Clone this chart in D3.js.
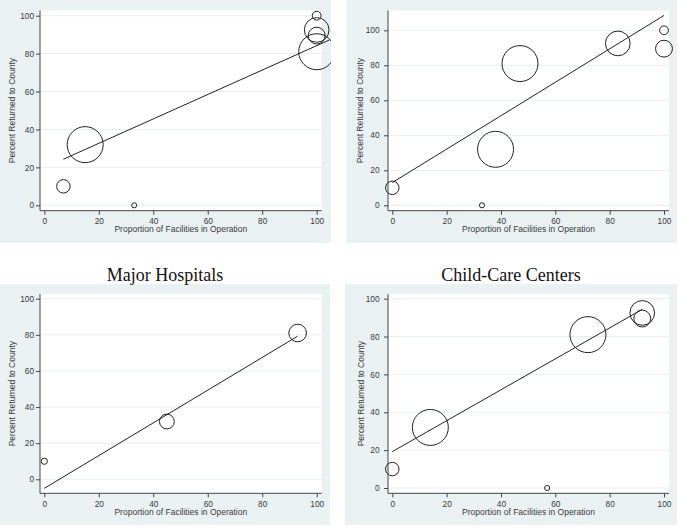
<!DOCTYPE html>
<html>
<head>
<meta charset="utf-8">
<title>Percent Returned to County</title>
<script src="https://cdn.jsdelivr.net/npm/d3@7"></script>
<style>
  body { margin: 0; background: #fff; }
  svg { display: block; }
</style>
</head>
<body>
<div id="chart"></div>
<script>
// ---- data ----
const xTicks = [0, 20, 40, 60, 80, 100];
const yTicks = [0, 20, 40, 60, 80, 100];
const panelTitles = ["", "", "Major Hospitals", "Child-Care Centers"];

// top-left panel
const aX = [100, 100, 100, 100, 15, 7, 33];
const aY = [100, 92.5, 89.5, 81, 32, 10, 0];
const aW = [6, 47, 22, 100, 100, 14, 2];
const aFit = [19.8, 0.644, 7, 104.7];   // intercept, slope, x from, x to

// top-right panel
const bX = [100, 83, 100, 47, 38, 0, 33];
const bY = [100, 92.5, 89.5, 81, 32, 10, 0];
const bW = [6, 47, 22, 100, 100, 14, 2];
const bFit = [13, 0.955, 0, 100];

// Major Hospitals
const cX = [93, 45, 0];
const cY = [81, 32, 10];
const cW = [24, 17, 3];
const cFit = [-5, 0.906, 0, 93];

// Child-Care Centers
const dX = [92, 92, 72, 14, 0, 57];
const dY = [92.5, 89.5, 81, 32, 10, 0];
const dW = [47, 22, 100, 100, 14, 2];
const dFit = [19.2, 0.817, 0, 92];

const xTitle = "Proportion of Facilities in Operation";
const yTitle = "Percent Returned to County";

// ---- layout ----
const width = 680, height = 528;
const bgColor = "#e9f1f2";
const inkColor = "#222";
const textColor = "#3a3a3a";
const fontSans = "'Liberation Sans', Arial, sans-serif";

const panels = [
  {x: aX, y: aY, w: aW, fit: aFit, title: panelTitles[0],
   bg: [0, 0, 331, 243], plot: [40, 10.5, 321.7, 210.7],
   xr: [44.3, 316.7], yr: [205.3, 15.7], yTitleX: 15.3, yPad: 2},
  {x: bX, y: bY, w: bW, fit: bFit, title: panelTitles[1],
   bg: [346.5, 0, 677, 243], plot: [388, 10.5, 669, 210.7],
   xr: [392.3, 664], yr: [205.3, 30.3], yTitleX: 363, yPad: 4.5},
  {x: cX, y: cY, w: cW, fit: cFit, title: panelTitles[2],
   bg: [0, 284, 330, 525], plot: [40, 294, 321.7, 493.3],
   xr: [44.3, 316.7], yr: [479.3, 298.7], yTitleX: 15.3, yPad: 2},
  {x: dX, y: dY, w: dW, fit: dFit, title: panelTitles[3],
   bg: [345, 284, 677, 525], plot: [388, 294, 669, 493.3],
   xr: [392.3, 664], yr: [488, 298.7], yTitleX: 363.5, yPad: 4.5}
];

const r = d3.scaleSqrt().domain([0, 100]).range([0, 18]);

const svg = d3.select("#chart")
  .append("svg")
  .attr("width", width)
  .attr("height", height)
  .attr("viewBox", [0, 0, width, height]);

panels.forEach((p, i) => {
  const [bx0, by0, bx1, by1] = p.bg;
  const [px0, py0, px1, py1] = p.plot;

  const x = d3.scaleLinear().domain([0, 100]).range(p.xr);
  const y = d3.scaleLinear().domain([0, 100]).range(p.yr);

  const clipId = "clip" + i;
  svg.append("clipPath").attr("id", clipId)
    .append("rect")
    .attr("x", bx0).attr("y", by0)
    .attr("width", bx1 - bx0).attr("height", by1 - by0);

  const g = svg.append("g");

  // graph region + plot region
  g.append("rect")
    .attr("x", bx0).attr("y", by0)
    .attr("width", bx1 - bx0).attr("height", by1 - by0)
    .attr("fill", bgColor);
  g.append("rect")
    .attr("x", px0).attr("y", py0)
    .attr("width", px1 - px0).attr("height", py1 - py0)
    .attr("fill", "#fff");

  // grid
  g.append("g")
    .selectAll("line")
    .data(yTicks)
    .join("line")
      .attr("x1", px0).attr("x2", px1)
      .attr("y1", d => y(d)).attr("y2", d => y(d))
      .attr("stroke", "#e8eef0")
      .attr("stroke-width", 1);

  // axes
  const yAxis = g.append("g")
    .attr("transform", `translate(${px0},0)`)
    .call(d3.axisLeft(y).tickValues(yTicks).tickSize(4).tickPadding(p.yPad))
    .call(a => a.select(".domain").remove());
  const xAxis = g.append("g")
    .attr("transform", `translate(0,${py1})`)
    .call(d3.axisBottom(x).tickValues(xTicks).tickSize(4).tickPadding(3.5))
    .call(a => a.select(".domain").remove());

  [yAxis, xAxis].forEach(a => {
    a.attr("font-family", fontSans).attr("font-size", 8.3);
    a.selectAll("line").attr("stroke", "#444");
    a.selectAll("text").attr("fill", textColor);
  });

  g.append("line")
    .attr("x1", px0).attr("x2", px0)
    .attr("y1", py0).attr("y2", py1)
    .attr("stroke", "#444");
  g.append("line")
    .attr("x1", px0).attr("x2", px1)
    .attr("y1", py1).attr("y2", py1)
    .attr("stroke", "#444");

  // axis titles
  g.append("text")
    .attr("x", (px0 + px1) / 2)
    .attr("y", py1 + 21.5)
    .attr("text-anchor", "middle")
    .attr("font-family", fontSans)
    .attr("font-size", 8.5)
    .attr("fill", textColor)
    .text(xTitle);
  g.append("text")
    .attr("transform", `translate(${p.yTitleX},${(py0 + py1) / 2}) rotate(-90)`)
    .attr("text-anchor", "middle")
    .attr("font-family", fontSans)
    .attr("font-size", 8.5)
    .attr("fill", textColor)
    .text(yTitle);

  // marks, clipped to the graph region
  const marks = g.append("g").attr("clip-path", `url(#${clipId})`);

  const [a0, b0, f0, f1] = p.fit;
  marks.append("line")
    .attr("x1", x(f0)).attr("y1", y(a0 + b0 * f0))
    .attr("x2", x(f1)).attr("y2", y(a0 + b0 * f1))
    .attr("stroke", inkColor)
    .attr("stroke-width", 1);

  marks.append("g")
    .selectAll("circle")
    .data(d3.range(p.x.length))
    .join("circle")
      .attr("cx", k => x(p.x[k]))
      .attr("cy", k => y(p.y[k]))
      .attr("r", k => r(p.w[k]))
      .attr("fill", "none")
      .attr("stroke", inkColor)
      .attr("stroke-width", 1);

  // panel title
  if (p.title) {
    svg.append("text")
      .attr("x", (bx0 + bx1) / 2)
      .attr("y", by0 - 3)
      .attr("text-anchor", "middle")
      .attr("font-family", "'Liberation Serif', 'Times New Roman', serif")
      .attr("font-size", 18)
      .attr("fill", "#111")
      .text(p.title);
  }
});
</script>
</body>
</html>
